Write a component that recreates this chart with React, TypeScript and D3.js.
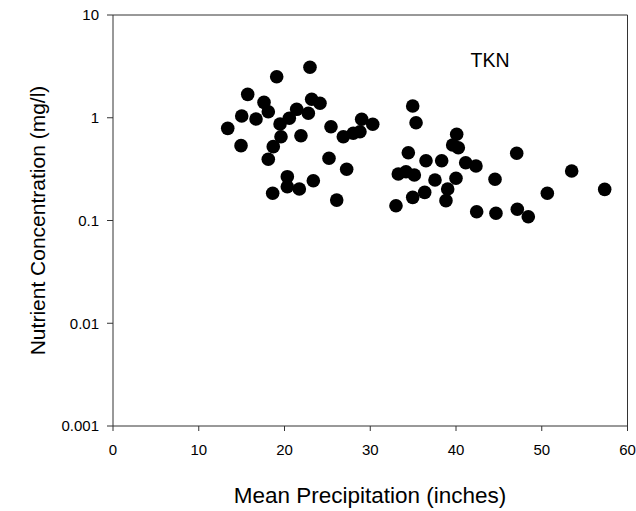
import React from "react";
import * as d3 from "d3";

const precip: number[] = [
  22.97, 19.09, 15.71, 17.61, 18.11, 15.01, 13.38, 16.68, 21.42, 23.17,
  24.14, 22.78, 20.56, 19.48, 19.59, 21.92, 25.42, 26.86, 14.93, 18.69,
  18.11, 25.19, 27.25, 20.33, 23.36, 20.33, 21.73, 18.62, 26.09, 28.02,
  29.0, 28.8, 30.29, 34.95, 35.34, 34.44, 33.27, 34.17, 35.14, 36.5,
  38.33, 37.55, 40.0, 39.03, 38.83, 36.35, 34.95, 33.0, 40.08, 39.61,
  40.27, 41.13, 42.33, 42.41, 47.08, 44.55, 53.49, 50.65, 57.34, 44.66,
  47.15, 48.43,
];
const tkn: number[] = [
  3.1, 2.51, 1.69, 1.41, 1.145, 1.04, 0.789, 0.972, 1.208, 1.512,
  1.382, 1.105, 0.988, 0.869, 0.654, 0.669, 0.818, 0.654, 0.535, 0.523,
  0.394, 0.403, 0.315, 0.267, 0.244, 0.213, 0.2025, 0.184, 0.158, 0.706,
  0.966, 0.731, 0.864, 1.3, 0.895, 0.457, 0.2836, 0.2985, 0.277, 0.382,
  0.382, 0.248, 0.2575, 0.2025, 0.156, 0.188, 0.168, 0.139, 0.69, 0.543,
  0.511, 0.365, 0.339, 0.1218, 0.451, 0.252, 0.303, 0.184, 0.201, 0.1175,
  0.1285, 0.1089,
];
const xTicks: number[] = [0, 10, 20, 30, 40, 50, 60];
const yTicks: number[] = [10, 1, 0.1, 0.01, 0.001];
const yTickLabels: string[] = ["10", "1", "0.1", "0.01", "0.001"];

const W = 636;
const H = 511;
const left = 113;
const right = 627.5;
const top = 15;
const bottom = 426;
const font = "'Liberation Sans', Arial, sans-serif";

export default function App() {
  const x = d3.scaleLinear().domain([0, 60]).range([left, right]);
  const y = d3.scaleLog().domain([0.001, 10]).range([bottom, top]);
  const axisColor = "#333";
  return (
    <svg
      width={W}
      height={H}
      style={{ position: "absolute", left: 0, top: 0, background: "#fff" }}
    >
      <rect x={0} y={0} width={W} height={H} fill="#fff" />
      <line x1={left} x2={right} y1={top} y2={top} stroke={axisColor} strokeWidth={1} />
      <line x1={right} x2={right} y1={top} y2={bottom} stroke={axisColor} strokeWidth={1} />
      <line x1={left} x2={left} y1={top} y2={bottom} stroke={axisColor} strokeWidth={1} />
      <line x1={left} x2={right} y1={bottom} y2={bottom} stroke={axisColor} strokeWidth={1} />
      {xTicks.map((t) => (
        <g key={"x" + t}>
          <line x1={x(t)} x2={x(t)} y1={bottom} y2={bottom + 5} stroke={axisColor} />
          <text
            x={x(t)}
            y={bottom + 29}
            textAnchor="middle"
            fontFamily={font}
            fontSize={15}
            fill="#000"
          >
            {t}
          </text>
        </g>
      ))}
      {yTicks.map((t, i) => (
        <g key={"y" + t}>
          <line x1={left - 6} x2={left} y1={y(t)} y2={y(t)} stroke={axisColor} />
          <text
            x={left - 14}
            y={y(t) + 5.4}
            textAnchor="end"
            fontFamily={font}
            fontSize={15}
            fill="#000"
          >
            {yTickLabels[i]}
          </text>
        </g>
      ))}
      {precip.map((p, i) => (
        <circle key={i} cx={x(p)} cy={y(tkn[i])} r={6.8} fill="#000" />
      ))}
      <text x={490} y={67} textAnchor="middle" fontFamily={font} fontSize={19.5} fill="#000">
        TKN
      </text>
      <text
        x={370}
        y={503}
        textAnchor="middle"
        fontFamily={font}
        fontSize={22.5}
        fill="#000"
      >
        Mean Precipitation (inches)
      </text>
      <text
        transform={`translate(45,${(top + bottom) / 2}) rotate(-90)`}
        textAnchor="middle"
        fontFamily={font}
        fontSize={21}
        fill="#000"
      >
        Nutrient Concentration (mg/l)
      </text>
    </svg>
  );
}
